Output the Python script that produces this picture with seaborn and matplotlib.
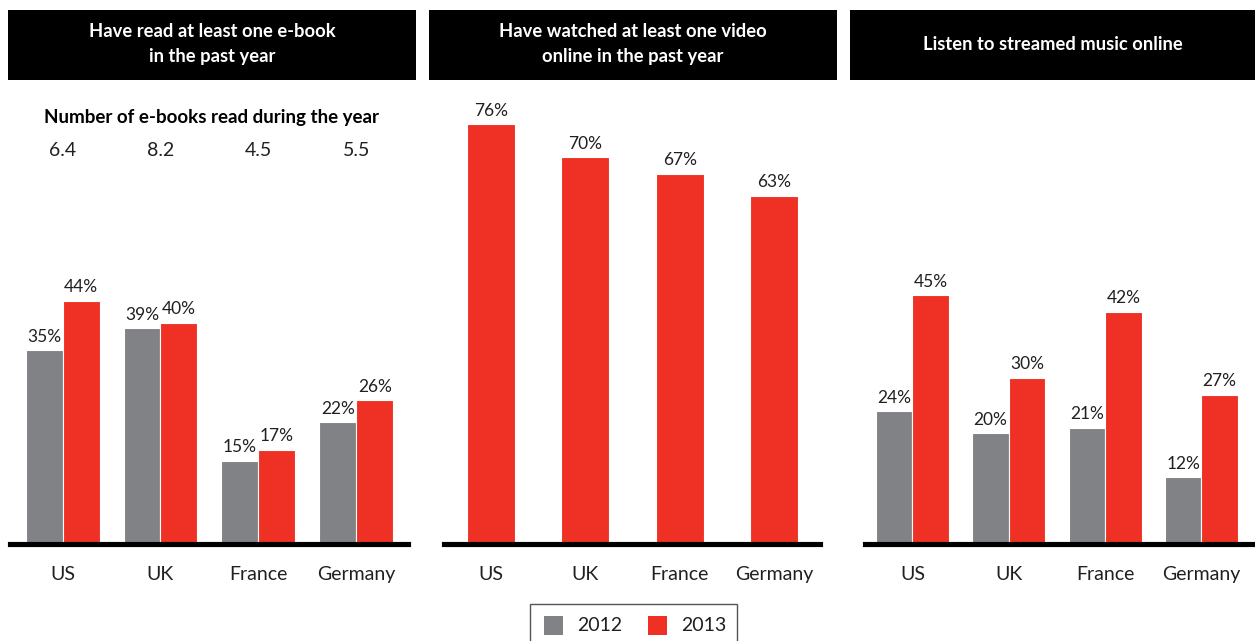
import matplotlib
matplotlib.use("Agg")
import matplotlib.pyplot as plt
from matplotlib.patches import Rectangle
import pandas as pd
import seaborn as sns

sns.set_theme(style="white")
plt.rcParams["font.family"] = ["Lato", "DejaVu Sans"]

# ---- data ----
countries = ["US", "UK", "France", "Germany"]
years = ["2012", "2013"]

ebook_2012 = [35, 39, 15, 22]
ebook_2013 = [44, 40, 17, 26]
ebooks_per_year = ["6.4", "8.2", "4.5", "5.5"]

video_2013 = [76, 70, 67, 63]

music_2012 = [24, 20, 21, 12]
music_2013 = [45, 30, 42, 27]

titles = [
    "Have read at least one e-book\nin the past year",
    "Have watched at least one video\nonline in the past year",
    "Listen to streamed music online",
]

GRAY = "#818285"
RED = "#EE3124"
TEXT = "#231F20"

W, H = 1255, 641
fig = plt.figure(figsize=(W / 100, H / 100), dpi=100)


def px_axes(left, right, top, bottom):
    return fig.add_axes([left / W, 1 - bottom / H, (right - left) / W, (bottom - top) / H])


def long_frame(v12, v13):
    return pd.DataFrame({
        "country": countries * 2,
        "year": [years[0]] * 4 + [years[1]] * 4,
        "value": list(v12) + list(v13),
    })


def style_axes(ax, xlim):
    ax.set_xlim(*xlim)
    ax.set_ylim(0, 82.2)
    ax.set_xlabel("")
    ax.set_ylabel("")
    ax.set_yticks([])
    for s in ("left", "right", "top"):
        ax.spines[s].set_visible(False)
    ax.spines["bottom"].set_color("black")
    ax.spines["bottom"].set_linewidth(3.7)
    ax.tick_params(axis="x", length=0, pad=16, labelsize=14, labelcolor=TEXT)
    ax.set_facecolor("none")
    for c in ax.containers:
        ax.bar_label(c, fmt="{:.0f}%", padding=4, fontsize=12.5, color=TEXT)


bar_style = dict(edgecolor="white", linewidth=0.8, saturation=1)

# panel 1: e-books
ax1 = px_axes(10, 408, 90, 543.5)
sns.barplot(data=long_frame(ebook_2012, ebook_2013), x="country", y="value",
            hue="year", palette=[GRAY, RED], width=0.755, ax=ax1, legend=False,
            order=countries, **bar_style)
style_axes(ax1, (-0.536, 3.526))

# panel 2: online video
ax2 = px_axes(444, 820, 90, 543.5)
sns.barplot(x=countries, y=video_2013, color=RED, width=0.51, ax=ax2, **bar_style)
style_axes(ax2, (-0.499, 3.488))

# panel 3: streamed music
ax3 = px_axes(865, 1255, 90, 543.5)
sns.barplot(data=long_frame(music_2012, music_2013), x="country", y="value",
            hue="year", palette=[GRAY, RED], width=0.758, ax=ax3, legend=False,
            order=countries, **bar_style)
style_axes(ax3, (-0.493, 3.557))

# black header boxes
header_spans = [(8, 416), (429, 837), (850, 1255)]
for (x0, x1), title in zip(header_spans, titles):
    fig.patches.append(Rectangle((x0 / W, 1 - 80 / H), (x1 - x0) / W, 70 / H,
                                 transform=fig.transFigure, facecolor="black",
                                 edgecolor="none"))
    fig.text((x0 + x1) / 2 / W, 1 - 44 / H, title, color="white", ha="center",
             va="center", fontsize=13.2, fontweight="bold", linespacing=1.6)

# e-book counts per country
fig.text(212 / W, 1 - 117 / H, "Number of e-books read during the year",
         ha="center", va="center", fontsize=13.5, fontweight="bold", color="black")
fig.canvas.draw()
for i, n in enumerate(ebooks_per_year):
    x_disp = ax1.transData.transform((i, 0))[0]
    fig.text(x_disp / fig.bbox.width, 1 - 151 / H, n, ha="center", va="center",
             fontsize=14, color=TEXT)

# legend
fig.patches.append(Rectangle((530 / W, 1 - 645 / H), 207 / W, 41 / H,
                             transform=fig.transFigure, facecolor="white",
                             edgecolor="#555555", linewidth=1.0))
for x0, col, lab in [(544, GRAY, years[0]), (648, RED, years[1])]:
    fig.patches.append(Rectangle((x0 / W, 1 - 635 / H), 19 / W, 19 / H,
                                 transform=fig.transFigure, facecolor=col,
                                 edgecolor="none"))
    fig.text((x0 + 33) / W, 1 - 625.5 / H, lab, ha="left", va="center",
             fontsize=14, color=TEXT)

fig.savefig("out.png", dpi=100, facecolor="white")
